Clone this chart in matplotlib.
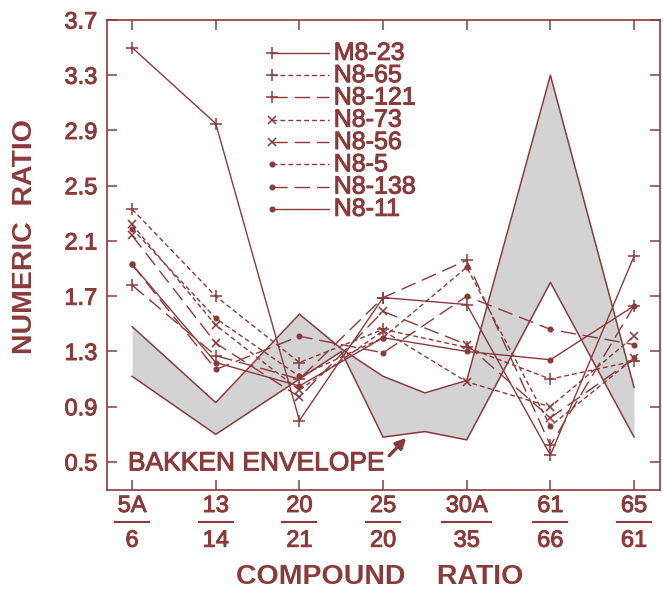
import matplotlib
matplotlib.use('Agg')
import matplotlib.pyplot as plt
import matplotlib.transforms as mtransforms
import matplotlib.patheffects as pe

RED = '#8b3a3a'
plt.rcParams['font.family'] = ['Liberation Sans', 'DejaVu Sans']
# slightly heavier lettering
THICK = [pe.withStroke(linewidth=0.7, foreground=RED)]

# compound ratios on the x axis, written as numerator / denominator
ratio_num = ['5A', '13', '20', '25', '30A', '61', '65']
ratio_den = ['6', '14', '21', '20', '35', '66', '61']

m8_23 = [3.50, 2.95, 0.80, 1.69, 1.64, 0.55, 1.99]
n8_65 = [2.33, 1.70, 1.22, 1.46, 1.33, 1.10, 1.23]
n8_121 = [1.78, 1.27, 1.10, 1.69, 1.96, 0.62, 1.63]
n8_73 = [2.22, 1.49, 1.02, 1.45, 1.08, 0.90, 1.41]
n8_56 = [2.14, 1.36, 0.97, 1.59, 1.35, 0.82, 1.25]
n8_5 = [2.19, 1.54, 1.12, 1.40, 1.91, 0.76, 1.25]
n8_138 = [1.93, 1.17, 1.41, 1.29, 1.70, 1.46, 1.35]
n8_11 = [1.93, 1.22, 1.05, 1.40, 1.30, 1.24, 1.63]

# Bakken envelope outline (upper / lower boundary)
env_x = [0, 1, 2, 2.5, 3, 3.5, 4, 5, 6]
env_hi = [1.48, 0.93, 1.57, 1.32, 1.12, 1.00, 1.09, 3.30, 1.04]
env_lo = [1.12, 0.70, 1.10, 1.30, 0.68, 0.72, 0.66, 1.80, 0.68]

SHORT = (0, (3.5, 2.2))
LONG = (0, (11, 5))
series = [
    ('M8-23', m8_23, '-', '+'),
    ('N8-65', n8_65, SHORT, '+'),
    ('N8-121', n8_121, LONG, '+'),
    ('N8-73', n8_73, SHORT, 'x'),
    ('N8-56', n8_56, LONG, 'x'),
    ('N8-5', n8_5, SHORT, '.'),
    ('N8-138', n8_138, LONG, '.'),
    ('N8-11', n8_11, '-', '.'),
]
msize = {'+': 8, 'x': 5.5, '.': 6.5}

fig = plt.figure(figsize=(6.63, 5.89), dpi=100)
ax = fig.add_axes([107 / 663, 1 - 490 / 589, 553 / 663, 470 / 589])

ax.fill_between(env_x, env_lo, env_hi, color='#d3d3d3', lw=0, zorder=1)
ax.plot(env_x, env_hi, color=RED, lw=1.1, zorder=2)
ax.plot(env_x, env_lo, color=RED, lw=1.1, zorder=2)

xs = list(range(len(ratio_num)))
for label, vals, ls, mk in series:
    ax.plot(xs, vals, color=RED, lw=1.0, ls=ls, marker=mk,
            ms=msize[mk], mew=1.1, zorder=3)

# legend: marker at the left end of each sample line
for i, (label, vals, ls, mk) in enumerate(series):
    y = 0.930 - i * 0.0474
    ax.plot([0.298, 0.401], [y, y], transform=ax.transAxes, color=RED,
            lw=1.0, ls=ls, zorder=4)
    ax.plot([0.298], [y], transform=ax.transAxes, color=RED, marker=mk,
            ms=msize[mk], mew=1.1, zorder=4)
    ax.text(0.410, y, label, transform=ax.transAxes, color=RED,
            fontsize=18, va='center', ha='left', path_effects=THICK)

ax.text(-0.05, 0.49, 'BAKKEN ENVELOPE', color=RED, fontsize=19,
        ha='left', va='center', path_effects=THICK)
ax.annotate('', xy=(3.30, 0.69), xytext=(3.05, 0.53),
            arrowprops=dict(arrowstyle='-|>', color=RED, lw=2.4,
                            mutation_scale=15))

ax.set_xlim(-0.30, 6.31)
ax.set_ylim(0.297, 3.7)
ax.set_yticks([0.5, 0.9, 1.3, 1.7, 2.1, 2.5, 2.9, 3.3, 3.7])
ax.set_yticklabels(['0.5', '0.9', '1.3', '1.7', '2.1', '2.5', '2.9', '3.3', '3.7'])
ax.set_xticks(xs)
ax.tick_params(axis='x', direction='in', length=7, width=1.1, color=RED,
               top=True, labelbottom=False)
ax.tick_params(axis='y', direction='in', length=7, width=1.1, color=RED,
               right=True, labelsize=17, labelcolor=RED, pad=7)
for t in ax.get_yticklabels():
    t.set_path_effects(THICK)
for sp in ax.spines.values():
    sp.set_color(RED)
    sp.set_linewidth(1.2)

# fraction-style tick labels
trans = mtransforms.blended_transform_factory(ax.transData, ax.transAxes)
for i, (num, den) in enumerate(zip(ratio_num, ratio_den)):
    ax.text(i, -0.034, num, transform=trans, color=RED, fontsize=17,
            ha='center', va='center', path_effects=THICK)
    ax.text(i, -0.108, den, transform=trans, color=RED, fontsize=17,
            ha='center', va='center', path_effects=THICK)
    hw = (15 * len(num) + 4) / 2 / 83.7
    ax.plot([i - hw, i + hw], [-0.068, -0.068], transform=trans, color=RED,
            lw=1.5, clip_on=False)

ax.set_ylabel('NUMERIC  RATIO', color=RED, fontsize=20.5, fontweight='bold')
ax.yaxis.set_label_coords(-0.148, 0.54)
ax.set_xlabel('COMPOUND    RATIO', color=RED, fontsize=20.5, fontweight='bold')
ax.xaxis.set_label_coords(0.494, -0.185)
ax.xaxis.label.set_va('center')
ax.yaxis.label.set_va('center')

fig.savefig('out.png', dpi=100)
